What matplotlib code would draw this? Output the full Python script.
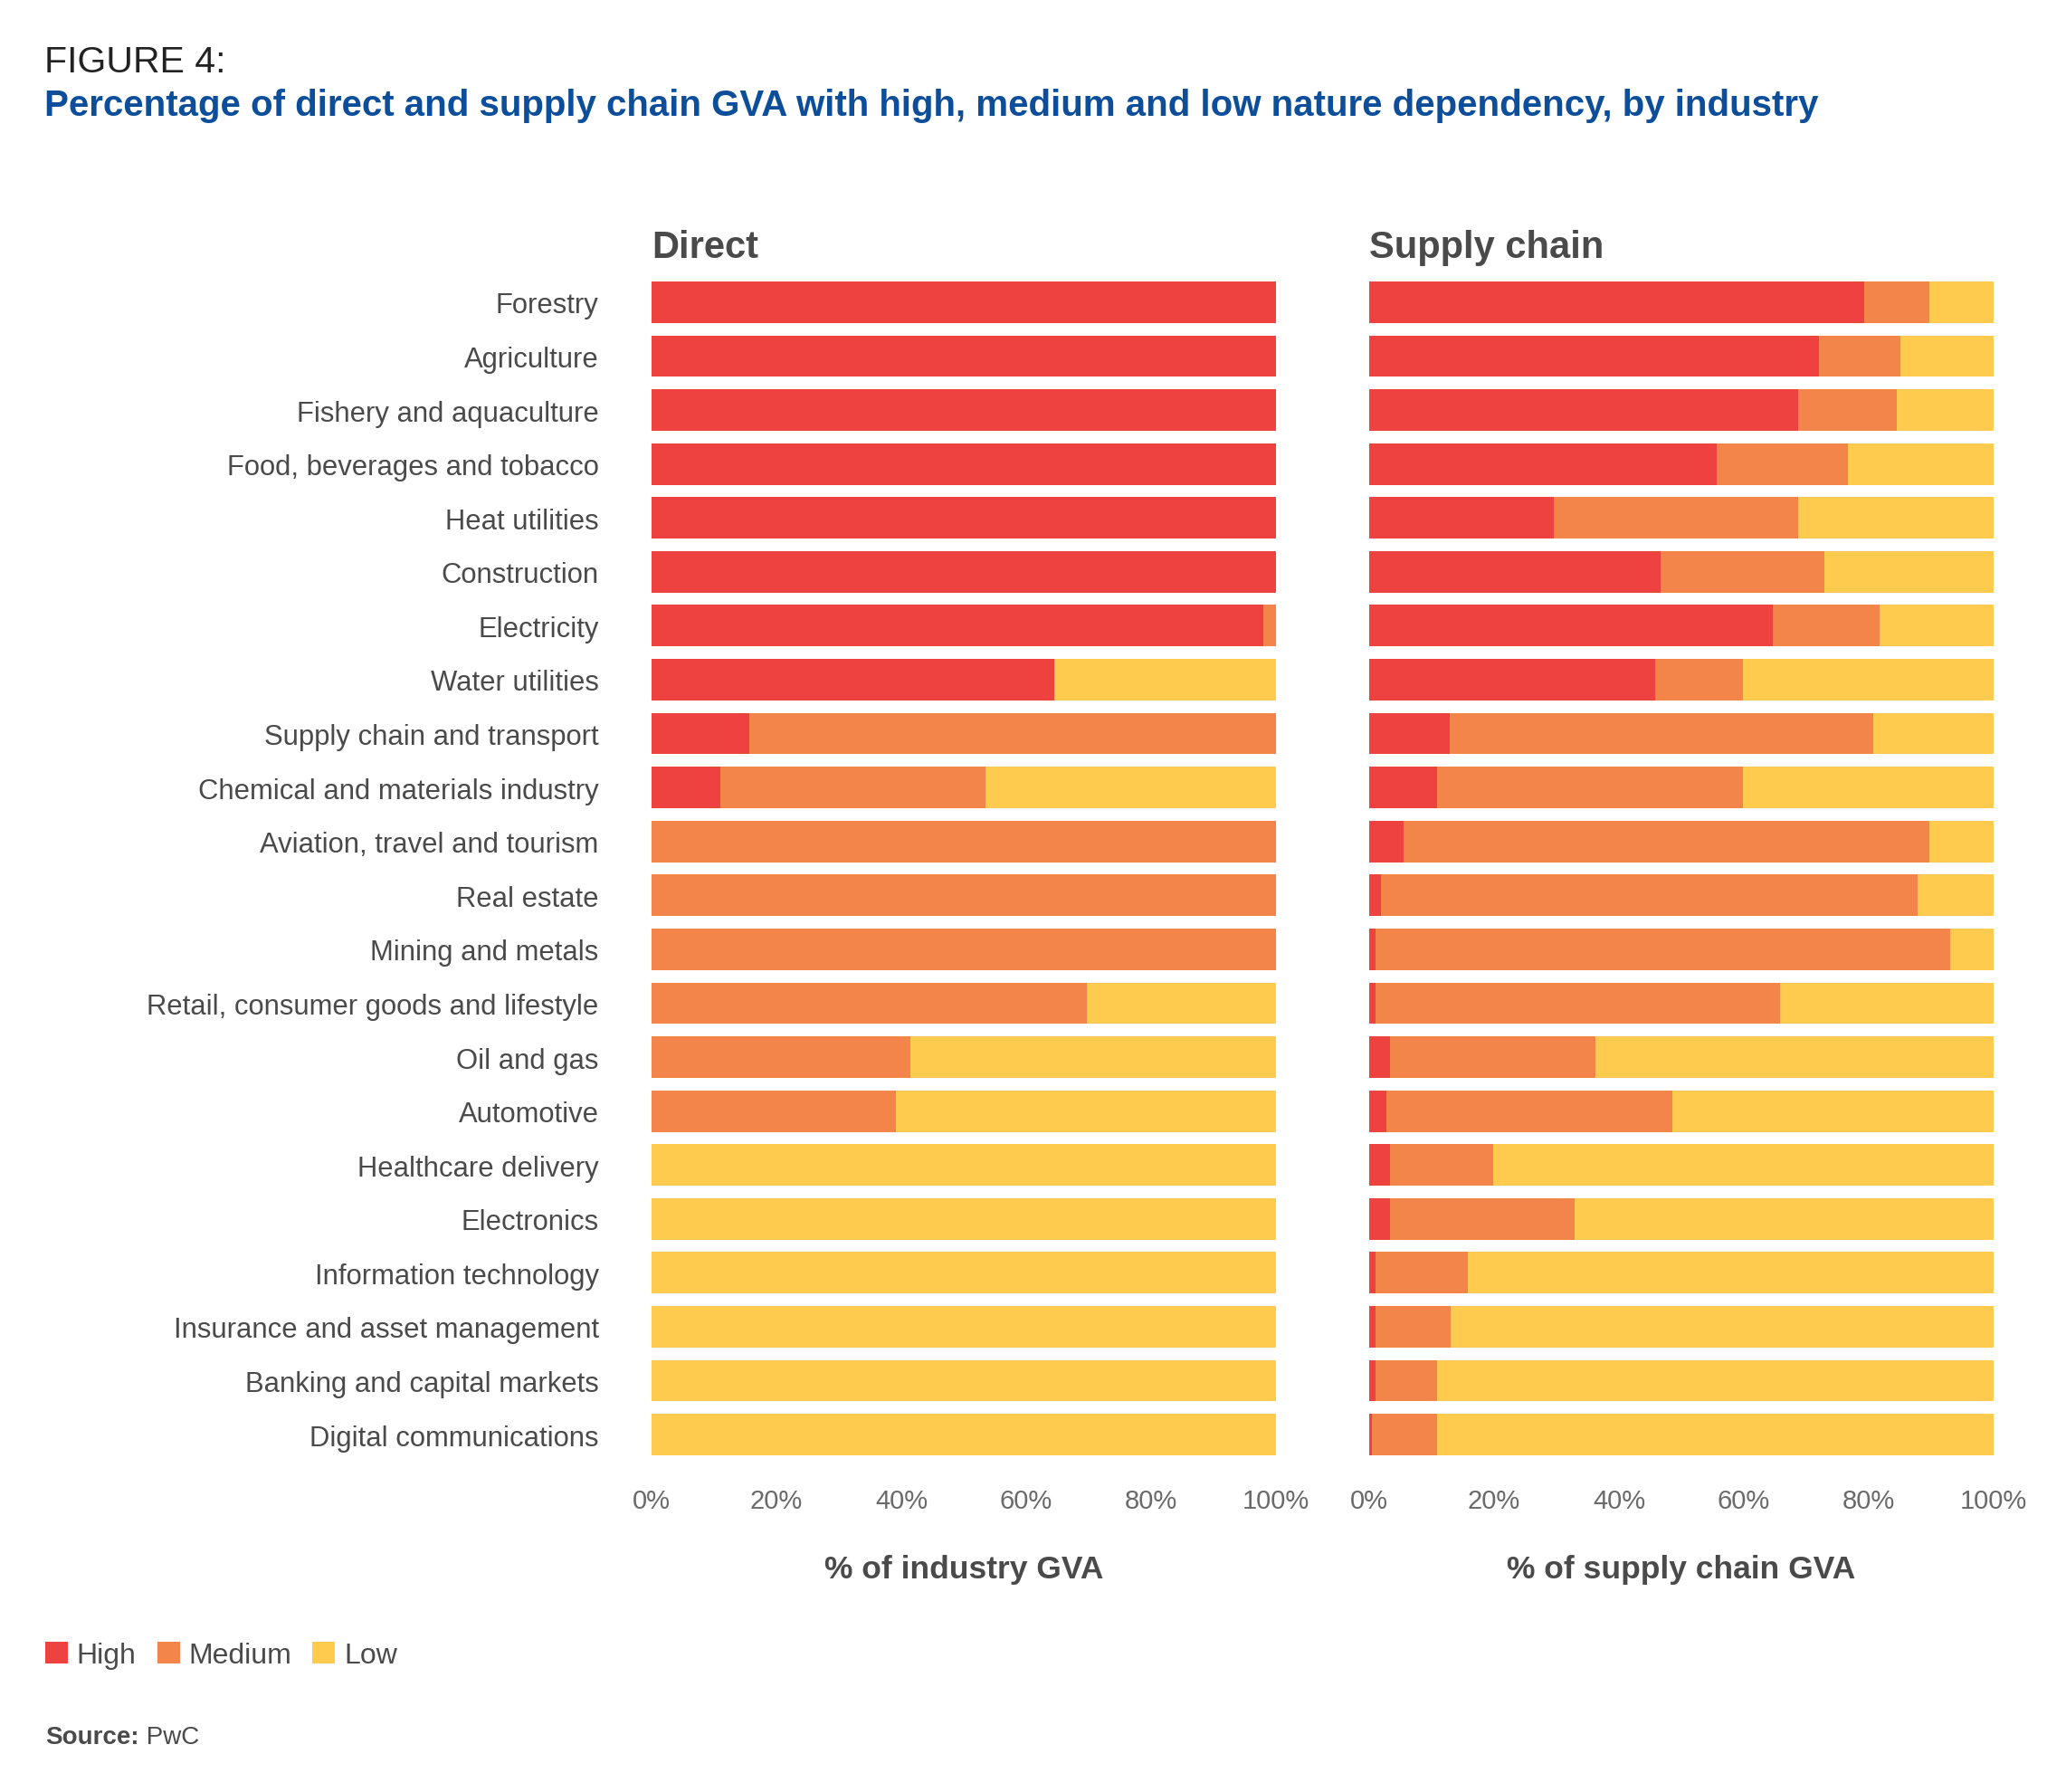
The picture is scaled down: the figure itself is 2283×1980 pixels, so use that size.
import matplotlib
matplotlib.use("Agg")
import matplotlib.pyplot as plt
from matplotlib.patches import Patch

industries = ["Forestry", "Agriculture", "Fishery and aquaculture", "Food, beverages and tobacco",
              "Heat utilities", "Construction", "Electricity", "Water utilities",
              "Supply chain and transport", "Chemical and materials industry",
              "Aviation, travel and tourism", "Real estate", "Mining and metals",
              "Retail, consumer goods and lifestyle", "Oil and gas", "Automotive",
              "Healthcare delivery", "Electronics", "Information technology",
              "Insurance and asset management", "Banking and capital markets",
              "Digital communications"]

direct_high = [100, 100, 100, 100, 100, 100, 98.0, 64.5, 15.7, 11.0, 0, 0, 0, 0, 0, 0, 0, 0, 0, 0, 0, 0]
direct_medium = [0, 0, 0, 0, 0, 0, 2.0, 0, 84.3, 42.5, 100, 100, 100, 69.7, 41.5, 39.2, 0, 0, 0, 0, 0, 0]
direct_low = [0, 0, 0, 0, 0, 0, 0, 35.5, 0, 46.5, 0, 0, 0, 30.3, 58.5, 60.8, 100, 100, 100, 100, 100, 100]

supply_high = [79.3, 72.1, 68.7, 55.6, 29.6, 46.6, 64.7, 45.8, 12.9, 10.9, 5.5, 1.9, 1.0, 1.0,
               3.3, 2.8, 3.3, 3.3, 1.0, 1.0, 1.0, 0.4]
supply_medium = [10.4, 13.0, 15.8, 21.0, 39.1, 26.3, 17.1, 14.0, 67.8, 48.9, 84.2, 85.9, 92.1, 64.8,
                 32.9, 45.8, 16.5, 29.6, 14.8, 12.1, 9.9, 10.5]
supply_low = [10.3, 14.9, 15.5, 23.4, 31.3, 27.1, 18.2, 40.2, 19.3, 40.2, 10.3, 12.2, 6.9, 34.2,
              63.8, 51.4, 80.2, 67.1, 84.2, 86.9, 89.1, 89.1]

levels = ["High", "Medium", "Low"]
colors = ["#EE4240", "#F4854A", "#FECB4F"]
xticks = [0, 20, 40, 60, 80, 100]
xticklabels = ["0%", "20%", "40%", "60%", "80%", "100%"]
panel_titles = ["Direct", "Supply chain"]
panel_xlabels = ["% of industry GVA", "% of supply chain GVA"]

plt.rcParams['font.family'] = ['Liberation Sans', 'DejaVu Sans']

W, H = 2283, 1981
fig = plt.figure(figsize=(W / 100, H / 100), dpi=100)
fig.patch.set_facecolor("white")

text_col = "#4A4A4A"
tick_col = "#6A6A6A"

top = 1 - 312 / H
bottom = 1 - 1609 / H
aw = 690 / W
lefts = [720 / W, 1513 / W]
bar_h = 0.77
ypos = list(range(len(industries)))

datasets = [(direct_high, direct_medium, direct_low), (supply_high, supply_medium, supply_low)]

for i, (left, data) in enumerate(zip(lefts, datasets)):
    ax = fig.add_axes([left, bottom, aw, top - bottom])
    cum = [0.0] * len(industries)
    for vals, col, lab in zip(data, colors, levels):
        ax.barh(ypos, vals, left=cum, height=bar_h, color=col, label=lab, linewidth=0)
        cum = [c + v for c, v in zip(cum, vals)]
    ax.set_xlim(0, 100)
    ax.set_ylim(len(industries) - 1 + bar_h / 2, -bar_h / 2)
    for s in ax.spines.values():
        s.set_visible(False)
    ax.set_xticks(xticks)
    ax.set_xticklabels(xticklabels, fontsize=21, color=tick_col)
    ax.tick_params(axis='x', length=0, pad=26)
    if i == 0:
        ax.set_yticks(ypos)
        ax.set_yticklabels(industries, fontsize=22.3, color=text_col)
        ax.tick_params(axis='y', length=0, pad=42)
        for lbl in ax.get_yticklabels():
            lbl.set_y(lbl.get_position()[1])
    else:
        ax.set_yticks([])
    fig.text(left, 1 - 285 / H, panel_titles[i], fontsize=30, color=text_col,
             ha='left', va='baseline', fontweight='bold')
    fig.text(left + aw / 2, 1 - 1735 / H, panel_xlabels[i], fontsize=25.5, color=text_col,
             ha='center', va='center', fontweight='bold')

fig.text(49 / W, 1 - 80 / H, "FIGURE 4:", fontsize=29.5, color="#222222",
         ha='left', va='baseline')
fig.text(49 / W, 1 - 128 / H,
         "Percentage of direct and supply chain GVA with high, medium and low nature dependency, by industry",
         fontsize=29, color="#0D4E9B", ha='left', va='baseline', fontweight='bold')

handles = [Patch(facecolor=c, edgecolor='none', label=l) for c, l in zip(colors, levels)]
fig.legend(handles=handles, loc='center left', bbox_to_anchor=(50 / W, 1 - 1830 / H),
           ncol=3, frameon=False, fontsize=23, handlelength=0.78, handleheight=0.75,
           handletextpad=0.31, columnspacing=0.72, borderpad=0, borderaxespad=0,
           labelcolor=text_col)

t1 = fig.text(50 / W, 1 - 1927 / H, "Source:", fontsize=20, color=text_col,
              fontweight='bold', ha='left', va='baseline')
fig.canvas.draw()
bb = t1.get_window_extent()
fig.text(bb.x1 / W, 1 - 1927 / H, " PwC", fontsize=20, color=text_col,
         ha='left', va='baseline')

fig.savefig("out.png", dpi=100, facecolor="white")
